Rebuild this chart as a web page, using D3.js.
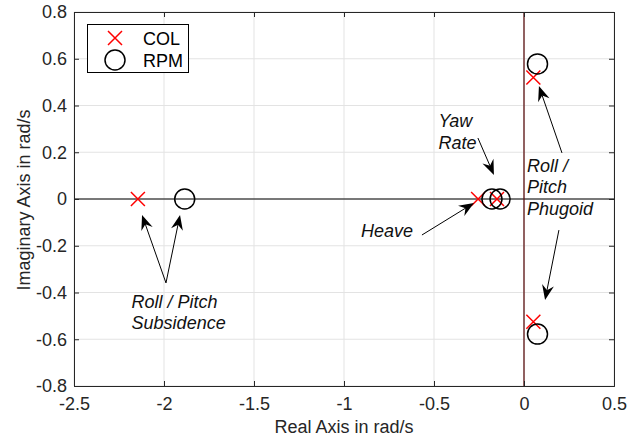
<!DOCTYPE html>
<html>
<head>
<meta charset="utf-8">
<script src="https://cdn.jsdelivr.net/npm/d3@7"></script>
<style>
  body { margin: 0; background: #fff; }
  text { font-family: "Liberation Sans", Arial, Helvetica, sans-serif; }
</style>
</head>
<body>
<div id="chart"></div>
<script>
// pole locations
let colReal = [-2.145, -0.255, -0.15, 0.052, 0.052];
let colImag = [0, 0, 0, 0.52, -0.525];
let rpmReal = [-1.885, -0.178, -0.133, 0.075, 0.075];
let rpmImag = [0, 0, 0, 0.578, -0.578];

let xTicks = [-2.5, -2, -1.5, -1, -0.5, 0, 0.5];
let yTicks = [-0.8, -0.6, -0.4, -0.2, 0, 0.2, 0.4, 0.6, 0.8];

// annotation text: [x, y, lines]
let notes = [
    [-0.475, 0.308, ["Yaw", "Rate"]],
    [-0.905, -0.163, ["Heave"]],
    [0.017, 0.116, ["Roll /", "Pitch", "Phugoid"]],
    [-2.18, -0.465, ["Roll / Pitch", "Subsidence"]]
];
// arrows: [fromX, fromY, toX, toY]
let arrows = [
    [-0.256, 0.261, -0.167, 0.103],
    [-0.567, -0.154, -0.278, -0.017],
    [0.211, 0.197, 0.083, 0.483],
    [0.194, -0.133, 0.117, -0.432],
    [-1.989, -0.359, -2.122, -0.068],
    [-1.989, -0.359, -1.911, -0.068]
];

let W = 638, H = 444;
let m = {left: 74, right: 24, top: 12, bottom: 58};
let fs = "18px";

let svg = d3.select("#chart").append("svg")
    .attr("width", W).attr("height", H);

let x = d3.scaleLinear().domain([-2.5, 0.5]).range([m.left, W - m.right]);
let y = d3.scaleLinear().domain([-0.8, 0.8]).range([H - m.bottom, m.top]);

let axisColor = "#262626";

// grid
svg.append("g").selectAll("line").data(xTicks).join("line")
    .attr("x1", d => x(d)).attr("x2", d => x(d))
    .attr("y1", y(-0.8)).attr("y2", y(0.8))
    .attr("stroke", "#e3e3e3");
svg.append("g").selectAll("line").data(yTicks).join("line")
    .attr("y1", d => y(d)).attr("y2", d => y(d))
    .attr("x1", x(-2.5)).attr("x2", x(0.5))
    .attr("stroke", "#e3e3e3");

// zero lines
svg.append("line")
    .attr("x1", x(-2.5)).attr("x2", x(0.5))
    .attr("y1", y(0)).attr("y2", y(0))
    .attr("stroke", "#000").attr("stroke-width", 1);
svg.append("line")
    .attr("x1", x(0)).attr("x2", x(0))
    .attr("y1", y(-0.8)).attr("y2", y(0.8))
    .attr("stroke", "#5e1414").attr("stroke-width", 1.3);

// axes, ticks inside on all four sides
let fmt = d => d3.format("")(d).replace("−", "-");
let bottomAxis = d3.axisBottom(x).tickValues(xTicks).tickSize(-5).tickPadding(11).tickFormat(fmt);
let leftAxis = d3.axisLeft(y).tickValues(yTicks).tickSize(-5).tickPadding(7).tickFormat(fmt);

svg.append("g").attr("transform", "translate(0," + y(-0.8) + ")").call(bottomAxis);
svg.append("g").attr("transform", "translate(" + x(-2.5) + ",0)").call(leftAxis);
svg.append("g").attr("transform", "translate(0," + y(0.8) + ")")
    .call(d3.axisTop(x).tickValues(xTicks).tickSize(-5).tickFormat(""));
svg.append("g").attr("transform", "translate(" + x(0.5) + ",0)")
    .call(d3.axisRight(y).tickValues(yTicks).tickSize(-5).tickFormat(""));

svg.selectAll(".domain").attr("stroke", axisColor);
svg.selectAll(".tick line").attr("stroke", axisColor);
svg.selectAll(".tick text").attr("fill", axisColor)
    .style("font-size", fs).style("font-family", "Liberation Sans, Arial, sans-serif");

// axis labels
svg.append("text")
    .attr("x", (x(-2.5) + x(0.5)) / 2).attr("y", 433)
    .attr("text-anchor", "middle").attr("fill", axisColor)
    .style("font-size", fs)
    .text("Real Axis in rad/s");
svg.append("text")
    .attr("transform", "translate(30," + (y(0) + 1) + ") rotate(-90)")
    .attr("text-anchor", "middle").attr("fill", axisColor)
    .style("font-size", fs)
    .text("Imaginary Axis in rad/s");

// markers
function cross(g, px, py, s) {
    g.append("path")
        .attr("d", "M" + (px - s) + "," + (py - s) + "L" + (px + s) + "," + (py + s) +
            "M" + (px - s) + "," + (py + s) + "L" + (px + s) + "," + (py - s))
        .attr("stroke", "#ff0000").attr("stroke-width", 1.5).attr("fill", "none");
}
let marks = svg.append("g");
colReal.forEach((d, i) => cross(marks, x(d), y(colImag[i]), 7));
marks.selectAll("circle").data(rpmReal).join("circle")
    .attr("cx", d => x(d)).attr("cy", (d, i) => y(rpmImag[i]))
    .attr("r", 10).attr("fill", "none")
    .attr("stroke", "#000").attr("stroke-width", 1.5);

// arrows
let ag = svg.append("g");
arrows.forEach(a => {
    let x1 = x(a[0]), y1 = y(a[1]), x2 = x(a[2]), y2 = y(a[3]);
    let ang = Math.atan2(y2 - y1, x2 - x1);
    ag.append("line")
        .attr("x1", x1).attr("y1", y1)
        .attr("x2", x2 - 9 * Math.cos(ang)).attr("y2", y2 - 9 * Math.sin(ang))
        .attr("stroke", "#000").attr("stroke-width", 1);
    ag.append("path")
        .attr("d", "M0,0L-15,-6L-10,0L-15,6Z")
        .attr("transform", "translate(" + x2 + "," + y2 + ") rotate(" + (ang * 180 / Math.PI) + ")")
        .attr("fill", "#000");
});

// annotation text
notes.forEach(n => {
    let t = svg.append("text")
        .attr("x", x(n[0])).attr("y", y(n[1]))
        .attr("fill", "#111")
        .style("font-size", fs).style("font-style", "italic");
    n[2].forEach((s, i) => {
        t.append("tspan").attr("x", x(n[0])).attr("dy", i === 0 ? 0 : "1.2em").text(s);
    });
});

// legend
let lg = svg.append("g");
lg.append("rect").attr("x", 87.5).attr("y", 24.5).attr("width", 101).attr("height", 48)
    .attr("fill", "#fff").attr("stroke", "#000").attr("stroke-width", 1);
cross(lg, 115, 38, 7);
lg.append("circle").attr("cx", 115).attr("cy", 60).attr("r", 10)
    .attr("fill", "none").attr("stroke", "#000").attr("stroke-width", 1.5);
lg.append("text").attr("x", 143).attr("y", 44.5).style("font-size", fs).attr("fill", "#000").text("COL");
lg.append("text").attr("x", 143).attr("y", 66.5).style("font-size", fs).attr("fill", "#000").text("RPM");
</script>
</body>
</html>
